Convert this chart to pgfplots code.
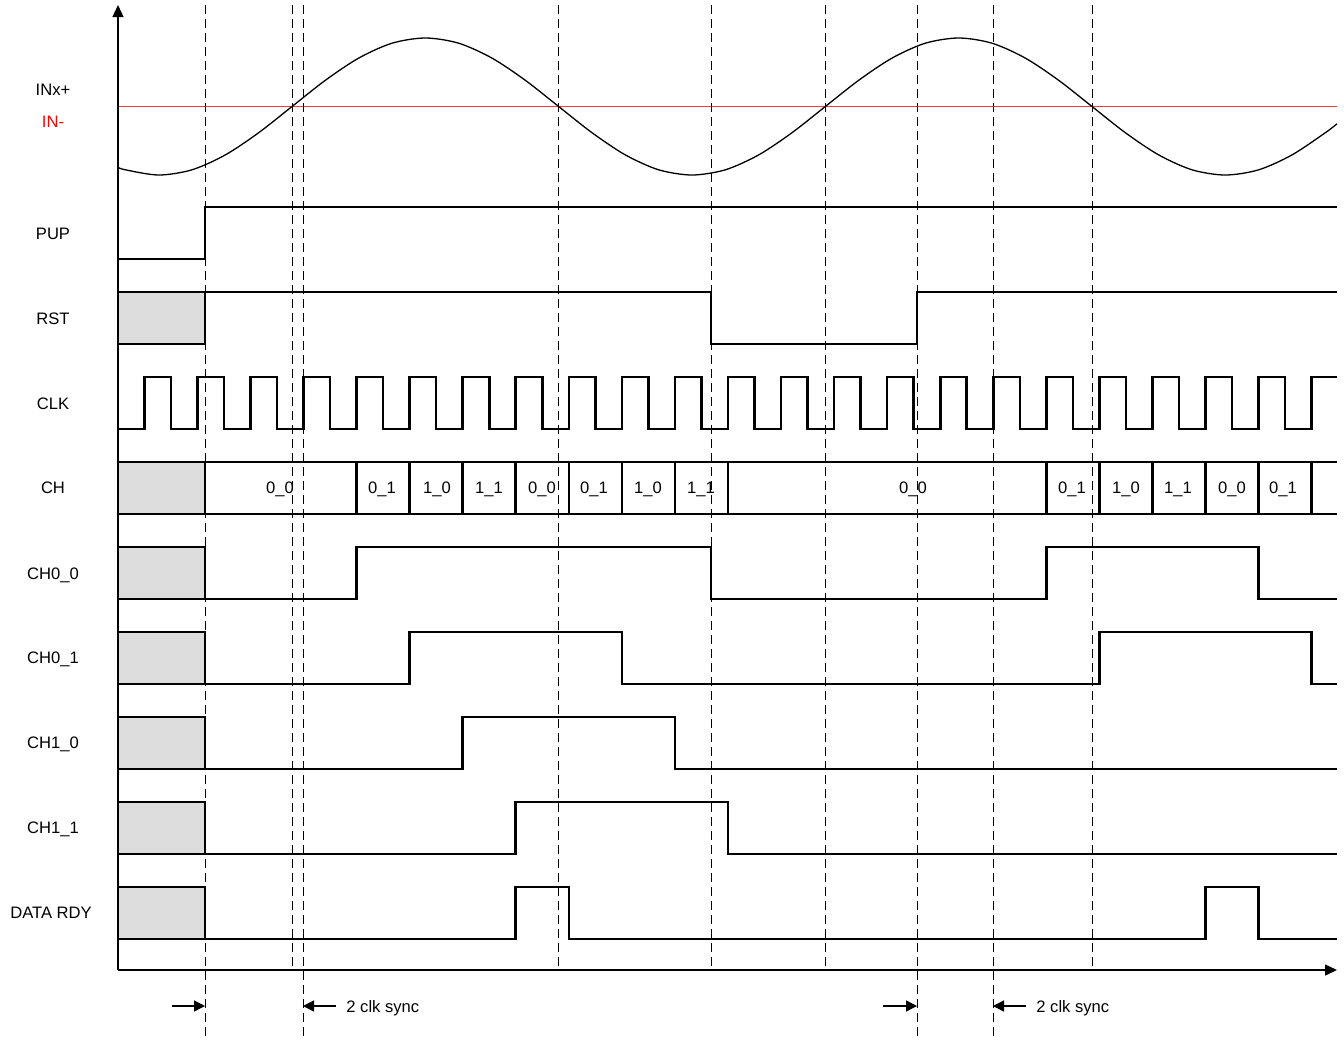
\documentclass[border=0pt]{standalone}
\usepackage{pgfplots}
\pgfplotsset{compat=1.18}
\usetikzlibrary{arrows.meta}
\usepackage{fontspec}
\setmainfont{Liberation Sans}
\definecolor{boxgray}{RGB}{221,221,221}
\definecolor{inred}{RGB}{240,60,60}
\begin{document}
\begin{tikzpicture}[
  sig/.style={const plot, line width=1.3pt, line join=miter, black},
  graybox/.style={fill=boxgray, draw=none},
  boxline/.style={line width=1.3pt, line join=miter, black},
  mydash/.style={line width=0.5pt, black, dash pattern=on 4.5pt off 2.5pt},
  lab/.style={font=\fontsize{8.3}{10}\selectfont, anchor=base},
]
\begin{axis}[
  width=672pt, height=519.5pt, scale only axis,
  xmin=0, xmax=1344, ymin=0, ymax=1039, y dir=reverse,
  hide axis, clip=false,
]
% invisible frame for bounding box
\addplot[draw=none] coordinates {(0,0) (1344,1039)};

% gray boxes
\addplot[graybox] coordinates {(118,292) (205,292) (205,344) (118,344)} -- cycle;
\addplot[graybox] coordinates {(118,462) (205,462) (205,514) (118,514)} -- cycle;
\addplot[graybox] coordinates {(118,547) (205,547) (205,599) (118,599)} -- cycle;
\addplot[graybox] coordinates {(118,632) (205,632) (205,684) (118,684)} -- cycle;
\addplot[graybox] coordinates {(118,717) (205,717) (205,769) (118,769)} -- cycle;
\addplot[graybox] coordinates {(118,802) (205,802) (205,854) (118,854)} -- cycle;
\addplot[graybox] coordinates {(118,887) (205,887) (205,939) (118,939)} -- cycle;
\addplot[boxline] coordinates {(118,292) (205,292) (205,344) (118,344)};
\addplot[boxline] coordinates {(118,462) (205,462) (205,514) (118,514)};
\addplot[boxline] coordinates {(118,547) (205,547) (205,599) (118,599)};
\addplot[boxline] coordinates {(118,632) (205,632) (205,684) (118,684)};
\addplot[boxline] coordinates {(118,717) (205,717) (205,769) (118,769)};
\addplot[boxline] coordinates {(118,802) (205,802) (205,854) (118,854)};
\addplot[boxline] coordinates {(118,887) (205,887) (205,939) (118,939)};

% IN- reference line
\addplot[inred, line width=0.5pt] coordinates {(118,106) (1337,106)};
% INx+ sine
\addplot[black, line width=0.65pt, smooth] coordinates {
(118,167.3) (125.33,169.8) (158.67,175) (192,169.8) (225.33,154.9) (258.67,132.7)
(292,106.5) (325.33,80.3) (358.67,58.1) (392,43.2) (425.33,38) (458.67,43.2)
(492,58.1) (525.33,80.3) (558.67,106.5) (592,132.7) (625.33,154.9) (658.67,169.8)
(692,175) (725.33,169.8) (758.67,154.9) (792,132.7) (825.33,106.5) (858.67,80.3)
(892,58.1) (925.33,43.2) (958.67,38) (992,43.2) (1025.33,58.1) (1058.67,80.3)
(1092,106.5) (1125.33,132.7) (1158.67,154.9) (1192,169.8) (1225.33,175) (1258.67,169.8)
(1292,154.9) (1325.33,132.7) (1337,123.8)};

% PUP
\addplot[sig] coordinates {(118,259) (205,207) (1337,207)};
% RST
\addplot[sig] coordinates {(205,292) (711,344) (917,292) (1337,292)};
% CLK
\addplot[sig] coordinates {
(118,429) (144.3,377) (170.8,429) (197.4,377) (223.9,429) (250.4,377) (276.9,429)
(303.5,377) (330.0,429) (356.5,377) (383.0,429) (409.6,377) (436.1,429) (462.7,377)
(489.2,429) (515.7,377) (542.2,429) (568.8,377) (595.3,429) (621.8,377) (648.3,429)
(674.9,377) (701.4,429) (728.0,377) (754.5,429) (781.0,377) (807.5,429) (834.1,377)
(860.6,429) (887.1,377) (913.6,429) (940.2,377) (966.7,429) (993.3,377) (1019.8,429)
(1046.3,377) (1072.8,429) (1099.4,377) (1125.9,429) (1152.4,377) (1178.9,429)
(1205.5,377) (1232.0,429) (1258.6,377) (1285.1,429) (1311.6,377) (1337,377)};
% CH bus
\addplot[boxline] coordinates {(205,462) (1337,462)};
\addplot[boxline] coordinates {(205,514) (1337,514)};
\addplot[boxline, unbounded coords=jump] coordinates {
(356.5,462) (356.5,514) (nan,nan) (409.6,462) (409.6,514) (nan,nan)
(462.7,462) (462.7,514) (nan,nan) (515.7,462) (515.7,514) (nan,nan)
(568.8,462) (568.8,514) (nan,nan) (621.8,462) (621.8,514) (nan,nan)
(674.9,462) (674.9,514) (nan,nan) (728.0,462) (728.0,514) (nan,nan)
(1046.3,462) (1046.3,514) (nan,nan) (1099.4,462) (1099.4,514) (nan,nan)
(1152.4,462) (1152.4,514) (nan,nan) (1205.5,462) (1205.5,514) (nan,nan)
(1258.6,462) (1258.6,514) (nan,nan) (1311.6,462) (1311.6,514)};
% CH0_0
\addplot[sig] coordinates {(205,599) (356.5,547) (711,599) (1046.3,547) (1258.6,599) (1337,599)};
% CH0_1
\addplot[sig] coordinates {(205,684) (409.6,632) (621.8,684) (1099.4,632) (1311.6,684) (1337,684)};
% CH1_0
\addplot[sig] coordinates {(205,769) (462.7,717) (674.9,769) (1337,769)};
% CH1_1
\addplot[sig] coordinates {(205,854) (515.7,802) (728.0,854) (1337,854)};
% DATA RDY
\addplot[sig] coordinates {(205,939) (515.7,887) (568.8,939) (1205.5,887) (1258.6,939) (1337,939)};

% dashed markers
\addplot[mydash] coordinates {(205,5) (205,1039)};
\addplot[mydash] coordinates {(292,5) (292,970)};
\addplot[mydash] coordinates {(303,5) (303,1039)};
\addplot[mydash] coordinates {(558,5) (558,970)};
\addplot[mydash] coordinates {(711,5) (711,970)};
\addplot[mydash] coordinates {(825,5) (825,970)};
\addplot[mydash] coordinates {(917,5) (917,1039)};
\addplot[mydash] coordinates {(993,5) (993,1039)};
\addplot[mydash] coordinates {(1092,5) (1092,970)};

% axes arrows
\addplot[black, line width=0.7pt, -{Triangle[length=6pt,width=5.5pt]}] coordinates {(118,970) (118,5)};
\addplot[black, line width=0.7pt, -{Triangle[length=6pt,width=5.5pt]}] coordinates {(118,970) (1337,970)};

% sync arrows
\addplot[black, line width=0.7pt, -{Triangle[length=5.5pt,width=5.5pt]}] coordinates {(172,1006) (205,1006)};
\addplot[black, line width=0.7pt, -{Triangle[length=5.5pt,width=5.5pt]}] coordinates {(336,1006) (303,1006)};
\addplot[black, line width=0.7pt, -{Triangle[length=5.5pt,width=5.5pt]}] coordinates {(883,1006) (917,1006)};
\addplot[black, line width=0.7pt, -{Triangle[length=5.5pt,width=5.5pt]}] coordinates {(1026,1006) (993,1006)};
\node[lab, anchor=base west, inner sep=0pt] at (axis cs:346,1012) {2 clk sync};
\node[lab, anchor=base west, inner sep=0pt] at (axis cs:1036,1012) {2 clk sync};

% row labels
\node[lab] at (axis cs:53,95) {INx+};
\node[lab, text=red] at (axis cs:53,127) {IN-};
\node[lab] at (axis cs:53,239) {PUP};
\node[lab] at (axis cs:53,324) {RST};
\node[lab] at (axis cs:53,409) {CLK};
\node[lab] at (axis cs:53,493) {CH};
\node[lab] at (axis cs:53,579) {CH0\_0};
\node[lab] at (axis cs:53,663) {CH0\_1};
\node[lab] at (axis cs:53,748) {CH1\_0};
\node[lab] at (axis cs:53,833) {CH1\_1};
\node[lab] at (axis cs:51,918) {DATA RDY};

% bus labels
\node[lab] at (axis cs:280,493) {0\_0};
\node[lab] at (axis cs:382,493) {0\_1};
\node[lab] at (axis cs:437,493) {1\_0};
\node[lab] at (axis cs:489,493) {1\_1};
\node[lab] at (axis cs:542,493) {0\_0};
\node[lab] at (axis cs:594,493) {0\_1};
\node[lab] at (axis cs:648,493) {1\_0};
\node[lab] at (axis cs:701,493) {1\_1};
\node[lab] at (axis cs:913,493) {0\_0};
\node[lab] at (axis cs:1072,493) {0\_1};
\node[lab] at (axis cs:1126,493) {1\_0};
\node[lab] at (axis cs:1178,493) {1\_1};
\node[lab] at (axis cs:1232,493) {0\_0};
\node[lab] at (axis cs:1283,493) {0\_1};
\end{axis}
\end{tikzpicture}
\end{document}
